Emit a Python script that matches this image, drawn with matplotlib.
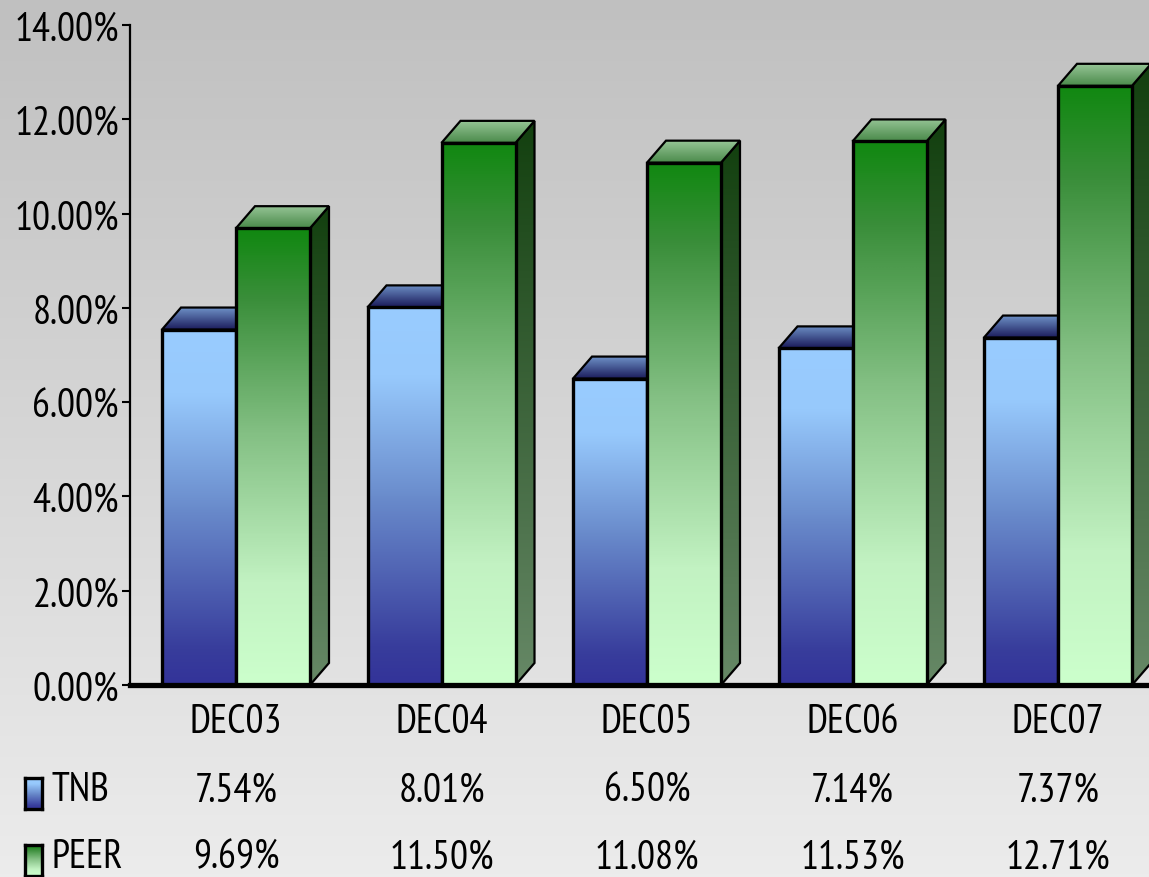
import numpy as np
import matplotlib
matplotlib.use("Agg")
import matplotlib.pyplot as plt
from matplotlib.patches import Polygon
from matplotlib.colors import LinearSegmentedColormap
from matplotlib import font_manager as fm
from matplotlib.font_manager import FontProperties
from matplotlib.textpath import TextPath

# ---------------- data ----------------
categories = ["DEC03", "DEC04", "DEC05", "DEC06", "DEC07"]
tnb = [7.54, 8.01, 6.50, 7.14, 7.37]
peer = [9.69, 11.50, 11.08, 11.53, 12.71]
series_names = ["TNB", "PEER"]
yticks = [0, 2, 4, 6, 8, 10, 12, 14]
ytick_labels = ["0.00%", "2.00%", "4.00%", "6.00%", "8.00%", "10.00%", "12.00%", "14.00%"]

# ---------------- font choice (narrow face if available) ----------------
available = {f.name for f in fm.fontManager.ttflist}
candidates = ["Liberation Sans Narrow", "Arial Narrow", "PT Sans Narrow", "Archivo Narrow",
              "Pragati Narrow", "Roboto Condensed", "Open Sans Condensed",
              "Fira Sans Condensed", "IBM Plex Sans Condensed", "Asap Condensed",
              "Encode Sans Condensed", "Liberation Sans"]
font = next((c for c in candidates if c in available), "DejaVu Sans")
plt.rcParams["font.family"] = [font, "DejaVu Sans"]

fp = FontProperties(family=[font, "DejaVu Sans"])
w100 = TextPath((0, 0), "14.00%", size=100, prop=fp).get_extents().width
h100 = TextPath((0, 0), "E", size=100, prop=fp).get_extents().height
px_per_pt = 100 / 72
fs = min(103 / (w100 / 100 * px_per_pt), 28 / (h100 / 100 * px_per_pt))

W, H = 1149, 878
fig = plt.figure(figsize=(W / 100, H / 100), dpi=100)

# background gradient
bg = fig.add_axes([0, 0, 1, 1], zorder=-10)
grad = np.linspace(0, 1, 256).reshape(-1, 1)
bg.imshow(grad, cmap=LinearSegmentedColormap.from_list("bg", ["#c0c0c0", "#ececec"]),
          aspect="auto", extent=[0, 1, 0, 1], origin="upper")
bg.set_axis_off()

# colormaps (value 0 = bottom, 1 = top)
blue_front = LinearSegmentedColormap.from_list(
    "bf", [(0, "#333399"), (0.1, "#383d9c"), (0.5, "#6a8ccc"), (0.82, "#97c9fc"), (1, "#99ccff")])
green_front = LinearSegmentedColormap.from_list(
    "gf", [(0, "#ccffcc"), (0.22, "#c2f2c2"), (0.55, "#84c084"), (0.85, "#3a8e3a"), (1, "#118811")])
green_side = LinearSegmentedColormap.from_list("gs", ["#668866", "#13400f"])
green_top = LinearSegmentedColormap.from_list("gt", ["#4a8a4a", "#95c495"])
blue_top = LinearSegmentedColormap.from_list("bt", ["#1a1a5a", "#6c8ec4"])

left_px, base_px, top_px = 130, 686, 26
ax = fig.add_axes([left_px / W, (H - base_px) / H, (W - left_px) / W, (base_px - top_px) / H])
ax.set_facecolor("none")

spacing_px = 205.5
x_left = -(236 - left_px) / spacing_px
x_right = (W - 236) / spacing_px
ymax = 14.0
px_per_unit_y = (base_px - top_px) / ymax
bw = 74 / spacing_px
dx = 19 / spacing_px
dy = 22 / px_per_unit_y

zc = [3]


def grad_poly(verts, cmap, y0, y1, lw):
    z = zc[0]
    zc[0] += 1
    poly = Polygon(verts, closed=True, facecolor="none", edgecolor="none")
    ax.add_patch(poly)
    xs = [v[0] for v in verts]
    g = np.linspace(1, 0, 128).reshape(-1, 1)
    im = ax.imshow(g, cmap=cmap, vmin=0, vmax=1, aspect="auto",
                   extent=[min(xs), max(xs), y0, y1], origin="upper", zorder=z,
                   interpolation="bilinear")
    im.set_clip_path(poly)
    ax.add_patch(Polygon(verts, closed=True, fill=False, edgecolor="black",
                         linewidth=lw, joinstyle="miter", zorder=z + 0.5))


def bar3d(x0, h, front, top, side):
    x1 = x0 + bw
    grad_poly([(x1, 0), (x1 + dx, dy), (x1 + dx, h + dy), (x1, h)], side, 0, h + dy, 1.6)
    grad_poly([(x0, h), (x0 + dx, h + dy), (x1 + dx, h + dy), (x1, h)], top, h, h + dy, 1.6)
    grad_poly([(x0, 0), (x1, 0), (x1, h), (x0, h)], front, 0, h, 2.4)


for i, (a, b) in enumerate(zip(tnb, peer)):
    bar3d(i - bw, a, blue_front, blue_top, green_side)
    bar3d(i, b, green_front, green_top, green_side)

ax.set_xlim(x_left, x_right)
ax.set_ylim(0, ymax)
ax.set_yticks(yticks)
ax.set_yticklabels(ytick_labels)
ax.set_xticks([])
ax.tick_params(axis="y", direction="out", length=6, width=1.5, pad=2, labelsize=fs,
               colors="black")
for s in ["top", "right"]:
    ax.spines[s].set_visible(False)
ax.spines["left"].set_linewidth(1.6)
ax.spines["bottom"].set_linewidth(3.8)
ax.spines["left"].set_zorder(50)
ax.spines["bottom"].set_zorder(50)


# ---------------- data table ----------------
def fx(px):
    return px / W


def fy(py):
    return 1 - py / H


centers_px = [236 + i * spacing_px for i in range(len(categories))]
for cx, cat, a, b in zip(centers_px, categories, tnb, peer):
    fig.text(fx(cx), fy(723), cat, ha="center", va="center", fontsize=fs)
    fig.text(fx(cx), fy(791), f"{a:.2f}%", ha="center", va="center", fontsize=fs)
    fig.text(fx(cx), fy(858), f"{b:.2f}%", ha="center", va="center", fontsize=fs)

# legend keys
for name, cmap, ytop, yrow in [(series_names[0], blue_front, 779, 791),
                               (series_names[1], green_front, 846, 858)]:
    kax = fig.add_axes([fx(25), fy(ytop + 31), fx(17), 31 / H])
    kax.imshow(np.linspace(1, 0, 64).reshape(-1, 1), cmap=cmap, vmin=0, vmax=1,
               aspect="auto", origin="upper")
    kax.set_xticks([])
    kax.set_yticks([])
    for s in kax.spines.values():
        s.set_linewidth(2.4)
        s.set_color("black")
    fig.text(fx(51), fy(yrow), name, ha="left", va="center", fontsize=fs)

fig.savefig("out.png", dpi=100)
